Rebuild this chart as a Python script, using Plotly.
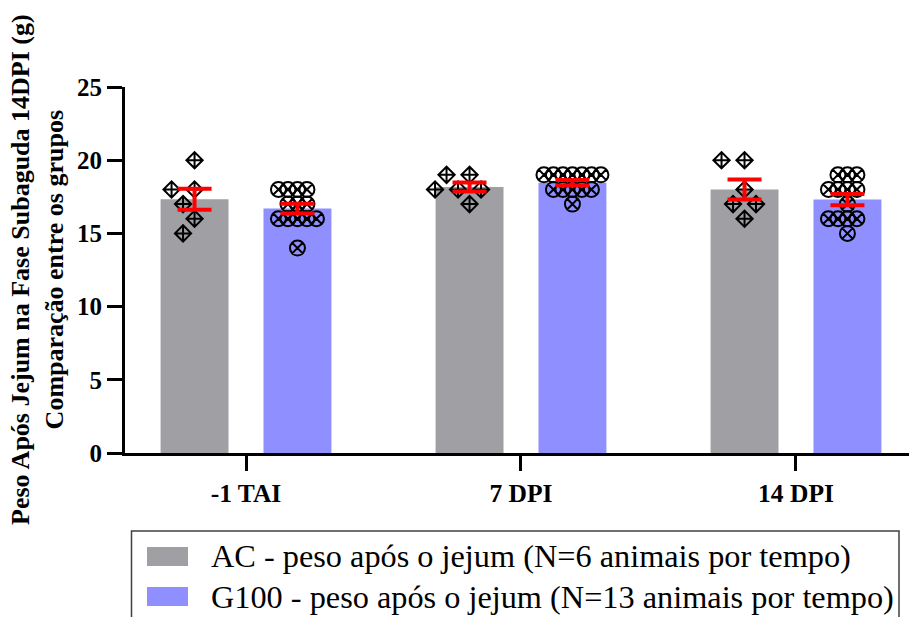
import numpy as np
import plotly.graph_objects as go

# ---------------- data ----------------
categories = ["-1 TAI", "7 DPI", "14 DPI"]
y_ticks = [0, 5, 10, 15, 20, 25]
y_title_lines = ["Peso Após Jejum na Fase Subaguda 14DPI (g)", "Comparação entre os grupos"]
ac_label = "AC - peso após o jejum (N=6 animais por tempo)"
g100_label = "G100 - peso após o jejum (N=13 animais por tempo)"

ac_tai = [20, 18, 18, 17, 16, 15]
ac_7dpi = [19, 19, 18, 18, 18, 17]
ac_14dpi = [20, 20, 18, 17, 17, 16]

g100_tai = [18, 18, 18, 18, 17, 17, 17, 16, 16, 16, 16, 16, 14]
g100_7dpi = [19, 19, 19, 19, 19, 19, 19, 18, 18, 18, 18, 18, 17]
g100_14dpi = [19, 19, 19, 18, 18, 18, 18, 17, 16, 16, 16, 16, 15]

ac_groups = [ac_tai, ac_7dpi, ac_14dpi]
g100_groups = [g100_tai, g100_7dpi, g100_14dpi]

# ---------------- styles / layout ----------------
W, H = 909, 617
ML, MT, MB, MR = 125, 87, 164, 0
PW, PH = W - ML - MR, H - MT - MB
X_RANGE = [-0.44, 2.411]
Y_RANGE = [0, 25]
PX_PER_X = PW / (X_RANGE[1] - X_RANGE[0])
PX_PER_Y = PH / (Y_RANGE[1] - Y_RANGE[0])

AC_COLOR = "#a0a0a4"
G100_COLOR = "#8f8fff"
BAR_W = 0.247
AC_OFF = -0.3106
G100_OFF = 0.0636
SERIF = "Liberation Serif"


def px2x(px):
    return (px - ML) / PW


def py2y(py):
    return (MT + PH - py) / PH


def swarm(values, unit_px, coll_px):
    """Greedy beeswarm: horizontal pixel offsets so markers do not collide."""
    order = sorted(range(len(values)), key=lambda i: -values[i])
    cands = [0] + [s * j for j in range(1, 30) for s in (-1, 1)]
    placed = []
    res = [0.0] * len(values)
    for i in order:
        yv = values[i] * PX_PER_Y
        for c in cands:
            xv = c * unit_px
            if all(np.hypot(xv - a, yv - b) >= coll_px for a, b in placed):
                break
        placed.append((xv, yv))
        res[i] = xv
    return res


def mean_sem(g):
    a = np.asarray(g, dtype=float)
    return a.mean(), a.std(ddof=1) / np.sqrt(len(a))


xpos = np.arange(len(categories))
ac_means = [mean_sem(g)[0] for g in ac_groups]
ac_sems = [mean_sem(g)[1] for g in ac_groups]
g_means = [mean_sem(g)[0] for g in g100_groups]
g_sems = [mean_sem(g)[1] for g in g100_groups]

fig = go.Figure()

fig.add_trace(go.Bar(x=xpos, y=ac_means, width=BAR_W, offset=AC_OFF,
                     marker=dict(color=AC_COLOR, line=dict(width=0)),
                     name=ac_label, showlegend=False))
fig.add_trace(go.Bar(x=xpos, y=g_means, width=BAR_W, offset=G100_OFF,
                     marker=dict(color=G100_COLOR, line=dict(width=0)),
                     name=g100_label, showlegend=False))

ac_center = AC_OFF + BAR_W / 2
g_center = G100_OFF + BAR_W / 2

# individual points
for k, g in enumerate(ac_groups):
    offs = swarm(g, 11.5, 15.5)
    fig.add_trace(go.Scatter(
        x=[k + ac_center + o / PX_PER_X for o in offs], y=g, mode="markers",
        marker=dict(symbol="diamond-cross-open", size=12.5, color="black",
                    line=dict(color="black", width=2)),
        showlegend=False, hoverinfo="y"))
for k, g in enumerate(g100_groups):
    offs = swarm(g, 9.5, 9.5)
    fig.add_trace(go.Scatter(
        x=[k + g_center + o / PX_PER_X for o in offs], y=g, mode="markers",
        marker=dict(symbol="circle-x-open", size=15, color="black",
                    line=dict(color="black", width=2)),
        showlegend=False, hoverinfo="y"))

# mean +/- SEM error bars
for cen, means, sems in [(ac_center, ac_means, ac_sems), (g_center, g_means, g_sems)]:
    fig.add_trace(go.Scatter(
        x=xpos + cen, y=means, mode="markers",
        marker=dict(size=1, color="rgba(0,0,0,0)"),
        error_y=dict(type="data", array=sems, color="#ff0000", thickness=4, width=17),
        showlegend=False, hoverinfo="skip"))

# manual legend
shapes = [
    dict(type="rect", xref="paper", yref="paper",
         x0=px2x(131.5), x1=px2x(899), y0=py2y(640), y1=py2y(531),
         line=dict(color="#404040", width=1.5), fillcolor="rgba(0,0,0,0)"),
    dict(type="rect", xref="paper", yref="paper",
         x0=px2x(147), x1=px2x(188), y0=py2y(566), y1=py2y(547),
         line=dict(width=0), fillcolor=AC_COLOR),
    dict(type="rect", xref="paper", yref="paper",
         x0=px2x(147), x1=px2x(188), y0=py2y(606), y1=py2y(587),
         line=dict(width=0), fillcolor=G100_COLOR),
]
annotations = [
    dict(text=ac_label, xref="paper", yref="paper", x=px2x(209), y=py2y(556),
         xanchor="left", yanchor="middle", showarrow=False,
         font=dict(family=SERIF, size=32.3, color="black")),
    dict(text=g100_label, xref="paper", yref="paper", x=px2x(209), y=py2y(597),
         xanchor="left", yanchor="middle", showarrow=False,
         font=dict(family=SERIF, size=32.3, color="black")),
    dict(text="<br>".join(y_title_lines),
         xref="paper", yref="paper", x=px2x(37), y=0.5,
         xanchor="center", yanchor="middle", showarrow=False, textangle=-90,
         font=dict(family=SERIF, size=26, color="black", weight="bold")),
]

fig.update_layout(
    width=W, height=H,
    margin=dict(l=ML, r=MR, t=MT, b=MB, pad=0),
    paper_bgcolor="white", plot_bgcolor="white",
    showlegend=False,
    shapes=shapes, annotations=annotations,
    xaxis=dict(range=X_RANGE, tickvals=list(xpos), ticktext=categories,
               showgrid=False, zeroline=False, showline=True, linecolor="black",
               linewidth=3, ticks="outside", ticklen=15, tickwidth=3,
               tickcolor="black",
               tickfont=dict(family=SERIF, size=25.5, color="black", weight="bold")),
    yaxis=dict(range=Y_RANGE, tickvals=y_ticks,
               showgrid=False, zeroline=False,
               showline=True, linecolor="black", linewidth=3, ticks="outside",
               ticklen=15, tickwidth=3, tickcolor="black",
               tickfont=dict(family=SERIF, size=25, color="black", weight="bold")),
)

fig.write_html("out.html")
